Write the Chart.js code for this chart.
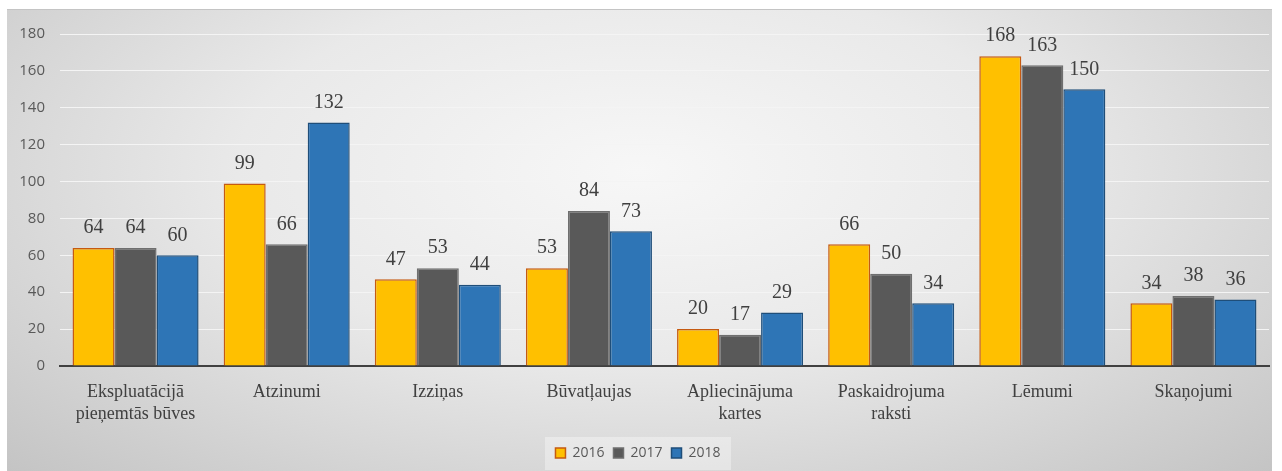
<!DOCTYPE html>
<html>
<head>
<meta charset="utf-8">
<script src="https://cdn.jsdelivr.net/npm/chart.js@4/dist/chart.umd.min.js"></script>
<style>
  body { margin: 0; background: #fff; }
  #wrap {
    position: absolute;
    left: 7px;
    top: 9px;
    width: 1265px;
    height: 461px;
    border-top: 1px solid #c4c4c4;
    background: radial-gradient(ellipse farthest-corner at 50% 35%, #f7f7f7 0%, #e9e9e9 45%, #c4c4c4 100%);
  }
</style>
</head>
<body>
<div id="wrap">
  <canvas id="barChart" width="1265" height="461"></canvas>
</div>
<script>
// categories (multi-line labels as arrays)
const categories = [
  ["Ekspluatācijā", "pieņemtās būves"],
  "Atzinumi",
  "Izziņas",
  "Būvatļaujas",
  ["Apliecinājuma", "kartes"],
  ["Paskaidrojuma", "raksti"],
  "Lēmumi",
  "Skaņojumi"
];

const years = ["2016", "2017", "2018"];

const values2016 = [64, 99, 47, 53, 20, 66, 168, 34];
const values2017 = [64, 66, 53, 84, 17, 50, 163, 38];
const values2018 = [60, 132, 44, 73, 29, 34, 150, 36];

const yTicks = [0, 20, 40, 60, 80, 100, 120, 140, 160, 180];

Chart.defaults.font.family = "'Open Sans', 'Liberation Sans', sans-serif";

// value labels above every bar
const barLabels = {
  id: "barLabels",
  afterDatasetsDraw(chart) {
    const ctx = chart.ctx;
    ctx.save();
    ctx.font = "20px 'Liberation Serif', 'Times New Roman', serif";
    ctx.fillStyle = "#404040";
    ctx.textAlign = "center";
    ctx.textBaseline = "middle";
    chart.data.datasets.forEach((ds, i) => {
      chart.getDatasetMeta(i).data.forEach((bar, j) => {
        ctx.fillText(ds.data[j], bar.x, bar.y - 20);
      });
    });
    ctx.restore();
  }
};

// light box behind the legend
const legendBox = {
  id: "legendBox",
  beforeDraw(chart) {
    const lg = chart.legend;
    if (!lg) return;
    const ctx = chart.ctx;
    ctx.save();
    ctx.fillStyle = "rgba(255,255,255,0.35)";
    ctx.fillRect(lg.left + (lg.width - 186) / 2, lg.top, 186, lg.height);
    ctx.restore();
  }
};

new Chart(document.getElementById("barChart"), {
  type: "bar",
  data: {
    labels: categories,
    datasets: [
      {
        label: years[0],
        data: values2016,
        backgroundColor: "#FFC000",
        borderColor: "#C55A11",
        borderWidth: 1.5,
      },
      {
        label: years[1],
        data: values2017,
        backgroundColor: "#595959",
        borderColor: "#6f6f6f",
        borderWidth: 1.5,
      },
      {
        label: years[2],
        data: values2018,
        backgroundColor: "#2E75B6",
        borderColor: "#1F4E79",
        borderWidth: 1.5,
      },
    ],
  },
  options: {
    responsive: false,
    animation: false,
    layout: { padding: { top: 21, right: 3, bottom: 1, left: 0 } },
    datasets: {
      bar: { barPercentage: 1, categoryPercentage: 0.834 },
    },
    plugins: {
      tooltip: { enabled: false },
      legend: {
        position: "bottom",
        labels: {
          boxWidth: 10,
          boxHeight: 10,
          padding: 9,
          color: "#595959",
          font: { size: 14 },
        },
      },
    },
    scales: {
      x: {
        grid: { display: false },
        border: { display: true, color: "#404040", width: 2 },
        ticks: {
          color: "#404040",
          maxRotation: 0,
          autoSkip: false,
          padding: 7,
          font: { family: "'Liberation Serif', 'Times New Roman', serif", size: 18, lineHeight: 1.25 },
        },
        afterFit(scale) { scale.height = 71; },
      },
      y: {
        min: 0,
        max: 180,
        border: { display: false },
        grid: {
          color: (c) => (c.tick && c.tick.value === 0 ? "rgba(0,0,0,0)" : "#f4f4f4"),
          lineWidth: 1,
          drawTicks: false,
        },
        afterBuildTicks(scale) { scale.ticks = yTicks.map((v) => ({ value: v })); },
        ticks: {
          color: "#595959",
          padding: 15,
          font: { size: 15 },
        },
        afterFit(scale) { scale.width = 53; },
      },
    },
  },
  plugins: [legendBox, barLabels],
});
</script>
</body>
</html>
